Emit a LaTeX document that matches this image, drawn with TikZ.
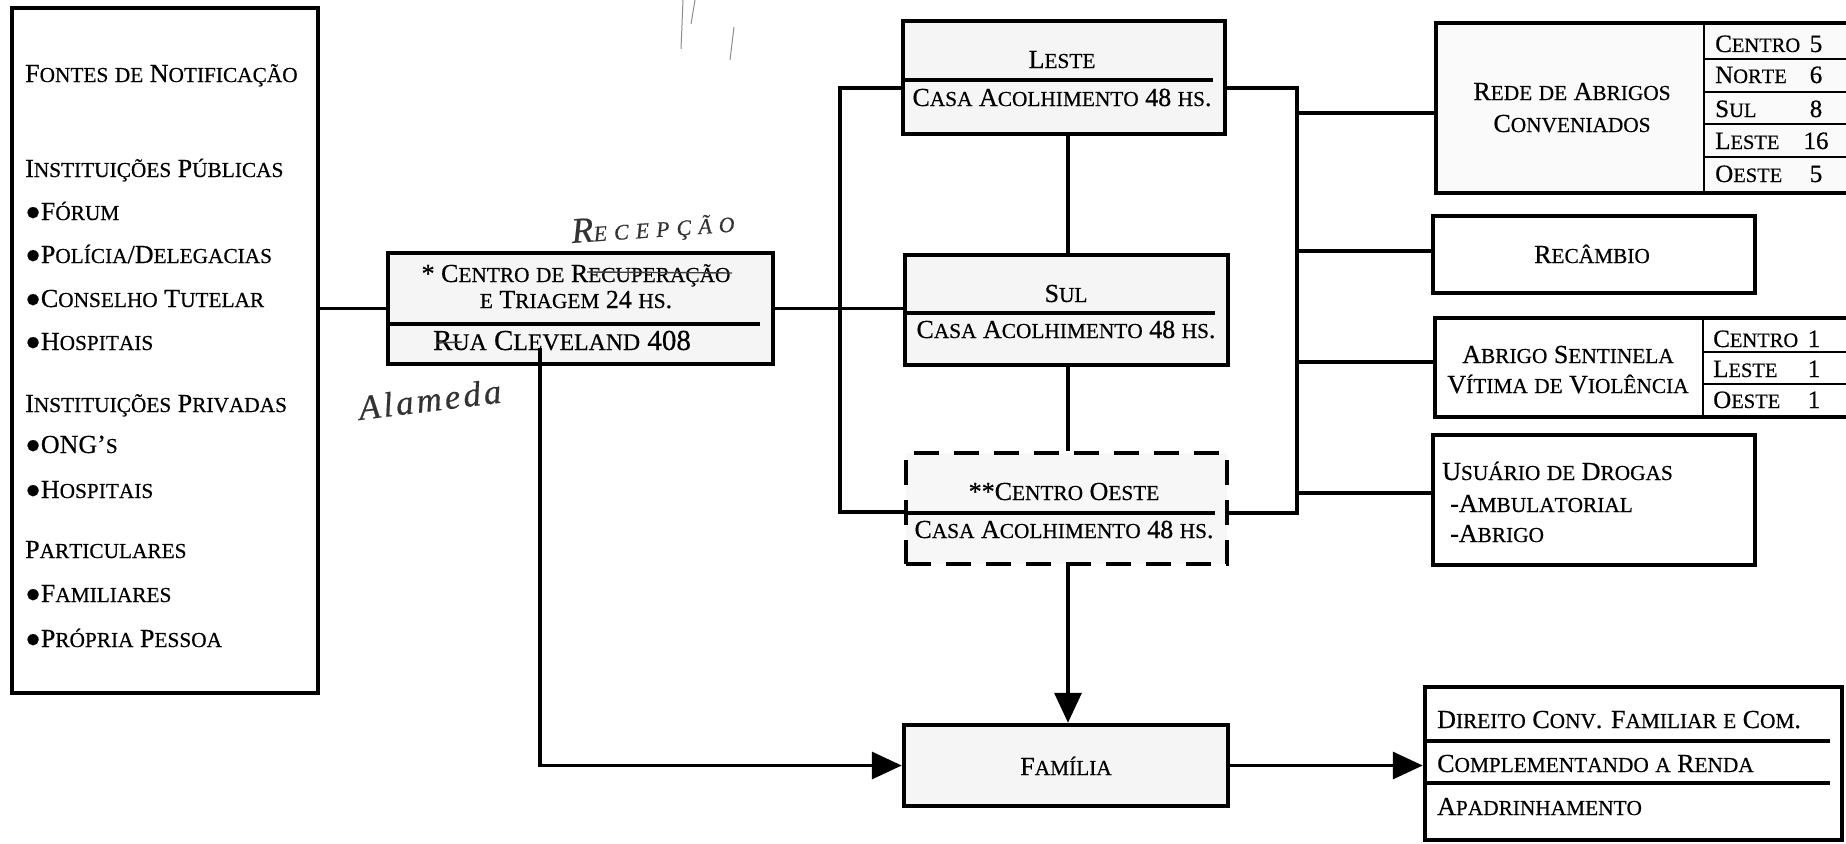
\documentclass[tikz,border=0pt]{standalone}
\usepackage{fontspec}
\setmainfont{Liberation Serif}[FakeBold=0.5]
\usepackage{graphicx}
\usetikzlibrary{arrows.meta}
\ExplSyntaxOn
\seq_new:N \l__fsc_seq
\bool_new:N \l__fsc_bool
\cs_new:Npn \__fsc_char:n #1
  {
    \str_if_eq:eeTF { \text_uppercase:n {#1} } { #1 }
      { #1 }
      { \scalebox{0.82}{ \text_uppercase:n {#1} } }
  }
\NewDocumentCommand \fsc { m }
  {
    \seq_set_split:Nnn \l__fsc_seq { ~ } {#1}
    \bool_set_true:N \l__fsc_bool
    \seq_map_inline:Nn \l__fsc_seq
      {
        \bool_if:NF \l__fsc_bool { \c_space_tl }
        \bool_set_false:N \l__fsc_bool
        \tl_map_function:nN {##1} \__fsc_char:n
      }
  }
\ExplSyntaxOff
\begin{document}
\begin{tikzpicture}[x=1pt,y=-1pt,
  box/.style={draw, line width=4.5pt, inner sep=0pt},
  gbox/.style={box, fill=black!4},
  dbox/.style={draw, line width=4.5pt, inner sep=0pt, fill=black!3, dash pattern=on 25pt off 15pt},
  conn/.style={line width=3.5pt},
  arr/.style={line width=3.5pt, -{Triangle[length=30pt,width=27pt]}},
  div/.style={line width=3.5pt},
  tdiv/.style={line width=2.2pt},
  tS/.style={font=\fontsize{26}{30}\selectfont, inner sep=0pt, anchor=base west},
  tM/.style={font=\fontsize{26}{30}\selectfont, inner sep=0pt, anchor=base},
  tC/.style={font=\fontsize{26}{30}\selectfont, inner sep=0pt, anchor=base},
  tR/.style={font=\fontsize{25}{30}\selectfont, inner sep=0pt, anchor=base west},
  tN/.style={font=\fontsize{25}{30}\selectfont, inner sep=0pt, anchor=base},
  tD/.style={font=\fontsize{26}{30}\selectfont, inner sep=0pt, anchor=base west},
  pen/.style={black!75, line width=1.4pt},
  hand/.style={black!80, inner sep=0pt, anchor=base west}
]
\useasboundingbox (0,0) rectangle (1846,843);
\clip (0,0) rectangle (1846,843);
\fill[white] (0,0) rectangle (1846,843);

% ---------- boxes ----------
\node[box, minimum width=306pt, minimum height=685pt] (src) at (165,350.5) {};
\node[gbox, minimum width=385pt, minimum height=111pt] (ctr) at (580.5,308.5) {};
\node[gbox, minimum width=322pt, minimum height=113pt] (leste) at (1064,77.5) {};
\node[gbox, minimum width=323pt, minimum height=110pt] (sul) at (1066.5,310) {};
\node[dbox, minimum width=321pt, minimum height=111pt] (co) at (1066.5,508.5) {};
\node[gbox, minimum width=324pt, minimum height=81pt] (fam) at (1066,765.5) {};
\node[box, fill=black!2, minimum width=434pt, minimum height=170pt] (rede) at (1653,108) {};
\node[box, minimum width=322pt, minimum height=77pt] (rec) at (1594,254.5) {};
\node[box, minimum width=435pt, minimum height=99pt] (abr) at (1652.5,367.5) {};
\node[box, minimum width=322pt, minimum height=130pt] (usu) at (1594,500) {};
\node[box, minimum width=417pt, minimum height=153pt] (dir) at (1633.5,763.5) {};

% ---------- dividers ----------
\draw[div] (388,324) -- (760,324);
\draw[div] (903,80) -- (1213,80);
\draw[div] (905,313) -- (1215,313);
\draw[div] (906,513) -- (1215,513);
\draw[div] (1425,741) -- (1830,741);
\draw[div] (1425,783) -- (1830,783);
\draw[tdiv] (1704,23) -- (1704,193);
\foreach \yy in {59,92,124,157} \draw[tdiv] (1704,\yy) -- (1870,\yy);
\draw[tdiv] (1703,318) -- (1703,417);
\foreach \yy in {352,384} \draw[tdiv] (1703,\yy) -- (1870,\yy);

% ---------- bus coordinates ----------
\coordinate (lbtop) at (840,88);
\coordinate (lbbot) at (840,512);
\coordinate (rbtop) at (1297,88);
\coordinate (rbbot) at (1297,513);
\coordinate (vx) at (1068,0);
\coordinate (drop) at (540,348);
\coordinate (rb1) at (1297,113);
\coordinate (rb2) at (1297,251);
\coordinate (rb3) at (1297,362);
\coordinate (rb4) at (1297,493);

% ---------- connectors ----------
\draw[conn] (src.east |- ctr.west) -- (ctr.west);
\draw[conn] (ctr.east) -- (ctr.east -| sul.west);
\draw[conn] (lbtop -| leste.west) -- (lbtop) -- (lbbot) -- (lbbot -| co.west);
\draw[conn] (rbtop -| leste.east) -- (rbtop) -- (rbbot) -- (rbbot -| co.east);
\draw[conn] (rb1) -- (rb1 -| rede.west);
\draw[conn] (rb2) -- (rb2 -| rec.west);
\draw[conn] (rb3) -- (rb3 -| abr.west);
\draw[conn] (rb4) -- (rb4 -| usu.west);
\draw[conn] (leste.south -| vx) -- (sul.north -| vx);
\draw[conn] (sul.south -| vx) -- (co.north -| vx);
\draw[arr] (co.south -| vx) -- (fam.north -| vx);
\draw[arr] (drop) |- (fam.west);
\draw[arr] (fam.east) -- (fam.east -| dir.west);

% ---------- left box texts ----------
\node[tS] (s1) at (25,82) {\fsc{Fontes de Notificação}};
\node[tS] (s2) at (25,177) {\fsc{Instituições Públicas}};
\node[tS] (s3) at (25,220) {●\fsc{Fórum}};
\node[tS] (s4) at (25,263) {●\fsc{Polícia/Delegacias}};
\node[tS] (s5) at (25,307) {●\fsc{Conselho Tutelar}};
\node[tS] (s6) at (25,350) {●\fsc{Hospitais}};
\node[tS] (s7) at (25,412) {\fsc{Instituições Privadas}};
\node[tS] (s8) at (25,453) {●\fsc{ONG’s}};
\node[tS] (s9) at (25,498) {●\fsc{Hospitais}};
\node[tS] (s10) at (25,558) {\fsc{Particulares}};
\node[tS] (s11) at (25,602) {●\fsc{Familiares}};
\node[tS] (s12) at (25,647) {●\fsc{Própria Pessoa}};

% ---------- center box texts ----------
\node[tC] (c1) at (576,282) {\fsc{* Centro de Recuperação}};
\node[tC] (c2) at (576,308) {\fsc{e Triagem 24 hs.}};
\node[tC, font=\fontsize{29}{32}\selectfont] (c3) at (562,350) {\fsc{Rua Cleveland 408}};

% ---------- middle column texts ----------
\node[tM] (l1) at (1062,68) {\fsc{Leste}};
\node[tM] (l2) at (1062,106) {\fsc{Casa Acolhimento 48 hs.}};
\node[tM] (u1) at (1066,302) {\fsc{Sul}};
\node[tM] (u2) at (1066,338) {\fsc{Casa Acolhimento 48 hs.}};
\node[tM] (o1) at (1064,500) {\fsc{**Centro Oeste}};
\node[tM] (o2) at (1064,538) {\fsc{Casa Acolhimento 48 hs.}};
\node[tM] (f1) at (1066,775) {\fsc{Família}};

% ---------- right column texts ----------
\node[tM] (r1) at (1572,100) {\fsc{Rede de Abrigos}};
\node[tM] (r2) at (1572,132) {\fsc{Conveniados}};
\node[tR] (ra) at (1715,52) {\fsc{Centro}};
\node[tR] (rb) at (1715,83) {\fsc{Norte}};
\node[tR] (rc) at (1715,117) {\fsc{Sul}};
\node[tR] (rd) at (1715,149) {\fsc{Leste}};
\node[tR] (re) at (1715,182) {\fsc{Oeste}};
\node[tN] (na) at (1816,52) {5};
\node[tN] (nb) at (1816,83) {6};
\node[tN] (nc) at (1816,117) {8};
\node[tN] (nd) at (1816,149) {16};
\node[tN] (ne) at (1816,182) {5};
\node[tM] (k1) at (1592,263) {\fsc{Recâmbio}};
\node[tM] (a1) at (1568,363) {\fsc{Abrigo Sentinela}};
\node[tM] (a2) at (1568,393) {\fsc{Vítima de Violência}};
\node[tR] (aa) at (1713,347) {\fsc{Centro}};
\node[tR] (ab) at (1713,377) {\fsc{Leste}};
\node[tR] (ac) at (1713,408) {\fsc{Oeste}};
\node[tN] (ma) at (1814,347) {1};
\node[tN] (mb) at (1814,377) {1};
\node[tN] (mc) at (1814,408) {1};
\node[tD] (d1) at (1442,480) {\fsc{Usuário de Drogas}};
\node[tD] (d2) at (1450,512) {-\fsc{Ambulatorial}};
\node[tD] (d3) at (1450,542) {-\fsc{Abrigo}};
\node[tD] (e1) at (1437,728) {\fsc{Direito Conv. Familiar e Com.}};
\node[tD] (e2) at (1437,772) {\fsc{Complementando a Renda}};
\node[tD] (e3) at (1437,815) {\fsc{Apadrinhamento}};

% ---------- handwritten marks ----------
\node[hand, rotate=4] (hw1) at (572,243) {\itshape\fontsize{36}{38}\selectfont R\fontsize{22}{24}\selectfont\addfontfeature{LetterSpace=32}ECEPÇÃO};
\node[hand, rotate=7] (hw2) at (360,420) {\itshape\fontsize{35}{40}\selectfont\addfontfeature{LetterSpace=9}Alameda};
\draw[pen] (587,272) -- (732,273);
\draw[pen] (436,343) -- (462,342);
\draw[black!45, line width=1pt] (683,0) -- (681,49);
\draw[black!45, line width=1pt] (695,0) -- (691,24);
\draw[black!45, line width=1pt] (734,27) -- (730,60);
\end{tikzpicture}
\end{document}
